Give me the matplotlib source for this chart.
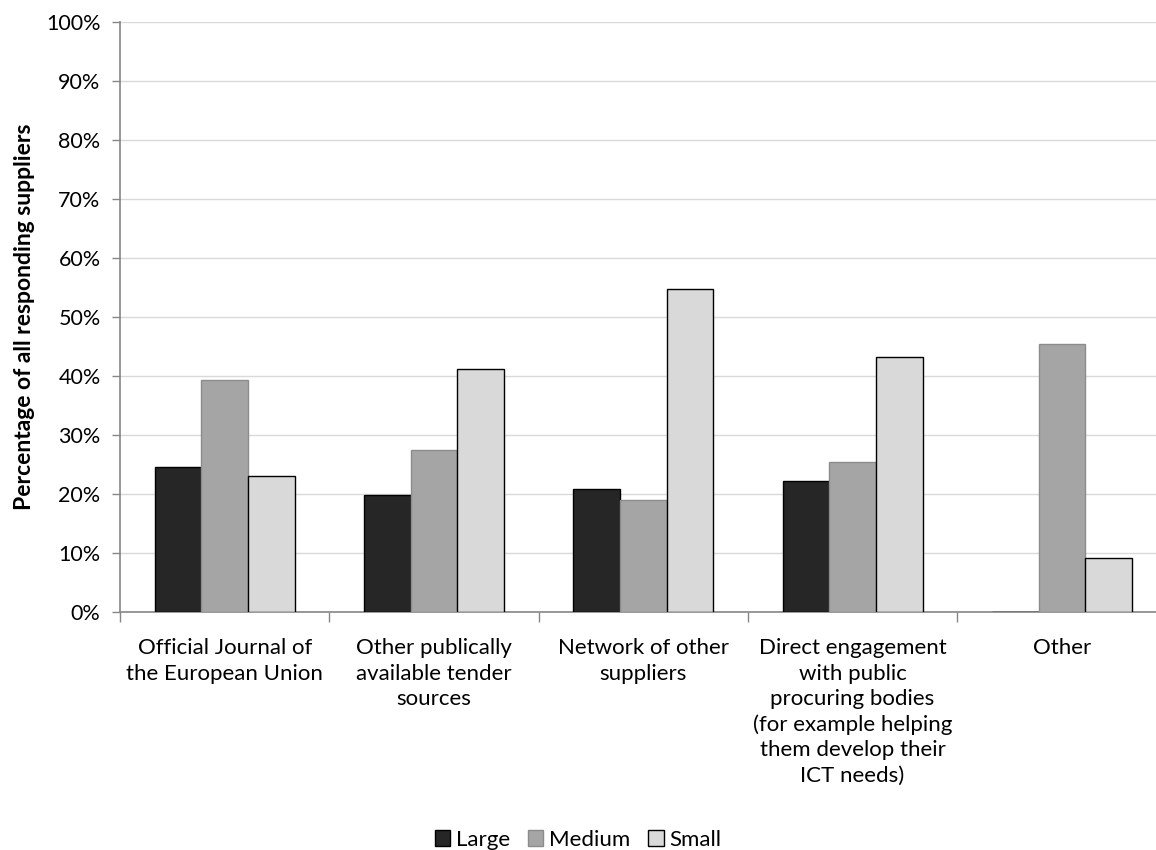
import matplotlib
matplotlib.use("Agg")
import matplotlib.pyplot as plt
import numpy as np
from matplotlib.ticker import FixedLocator, PercentFormatter
from matplotlib.patches import Patch

plt.rcParams['font.family'] = ['Lato', 'DejaVu Sans']

categories = [
    "Official Journal of\nthe European Union",
    "Other publically\navailable tender\nsources",
    "Network of other\nsuppliers",
    "Direct engagement\nwith public\nprocuring bodies\n(for example helping\nthem develop their\nICT needs)",
    "Other",
]
series_names = ["Large", "Medium", "Small"]
large = [24.6, 19.9, 20.8, 22.2, 0.0]
medium = [39.4, 27.5, 18.9, 25.5, 45.4]
small = [23.0, 41.2, 54.7, 43.3, 9.1]
yticks = [0, 10, 20, 30, 40, 50, 60, 70, 80, 90, 100]

fills = ["#262626", "#a5a5a5", "#d9d9d9"]
edges = ["#000000", "#8c8c8c", "#000000"]

fig = plt.figure(figsize=(11.56, 8.5), dpi=100)
W, H = 1156, 850
left_px, right_px, top_px, bot_px = 120, 1166.5, 22, 612
ax = fig.add_axes([left_px / W, 1 - bot_px / H, (right_px - left_px) / W, (bot_px - top_px) / H])

x = np.arange(len(categories))
bw = 0.223
for i, (vals, name) in enumerate(zip([large, medium, small], series_names)):
    ax.bar(x + (i - 1) * bw, vals, width=bw, color=fills[i], edgecolor=edges[i],
           linewidth=1.0, zorder=3, label=name)

ax.set_xlim(-0.5, len(categories) - 0.5)
ax.set_ylim(0, 100)
ax.yaxis.set_major_locator(FixedLocator(yticks))
ax.yaxis.set_major_formatter(PercentFormatter(decimals=0))
ax.grid(axis='y', color='#d9d9d9', linewidth=1.0, zorder=0)
ax.set_axisbelow(True)

ax.xaxis.set_major_locator(FixedLocator(np.arange(len(categories) + 1) - 0.5))
ax.xaxis.set_minor_locator(FixedLocator(x))
ax.set_xticklabels([], minor=False)
ax.set_xticklabels(categories, minor=True, fontsize=16, linespacing=1.33)
ax.tick_params(axis='x', which='major', length=7, color='#868686', width=1)
ax.tick_params(axis='x', which='minor', length=0, pad=19)
ax.tick_params(axis='y', length=6, color='#868686', width=1, labelsize=15.5, pad=8)

for s in ['top', 'right']:
    ax.spines[s].set_visible(False)
for s in ['left', 'bottom']:
    ax.spines[s].set_color('#868686')
    ax.spines[s].set_linewidth(1.2)

ax.set_ylabel("Percentage of all responding suppliers", fontsize=16.5, fontweight='bold', labelpad=8)

handles = [Patch(facecolor=fills[i], edgecolor=edges[i], label=series_names[i]) for i in range(3)]
fig.legend(handles=handles, loc='center', bbox_to_anchor=(0.5, 1 - 840 / H), ncol=3, frameon=False,
           fontsize=16, handlelength=0.7, handleheight=0.7, handletextpad=0.25, columnspacing=0.8)

fig.savefig("out.png", dpi=100)
